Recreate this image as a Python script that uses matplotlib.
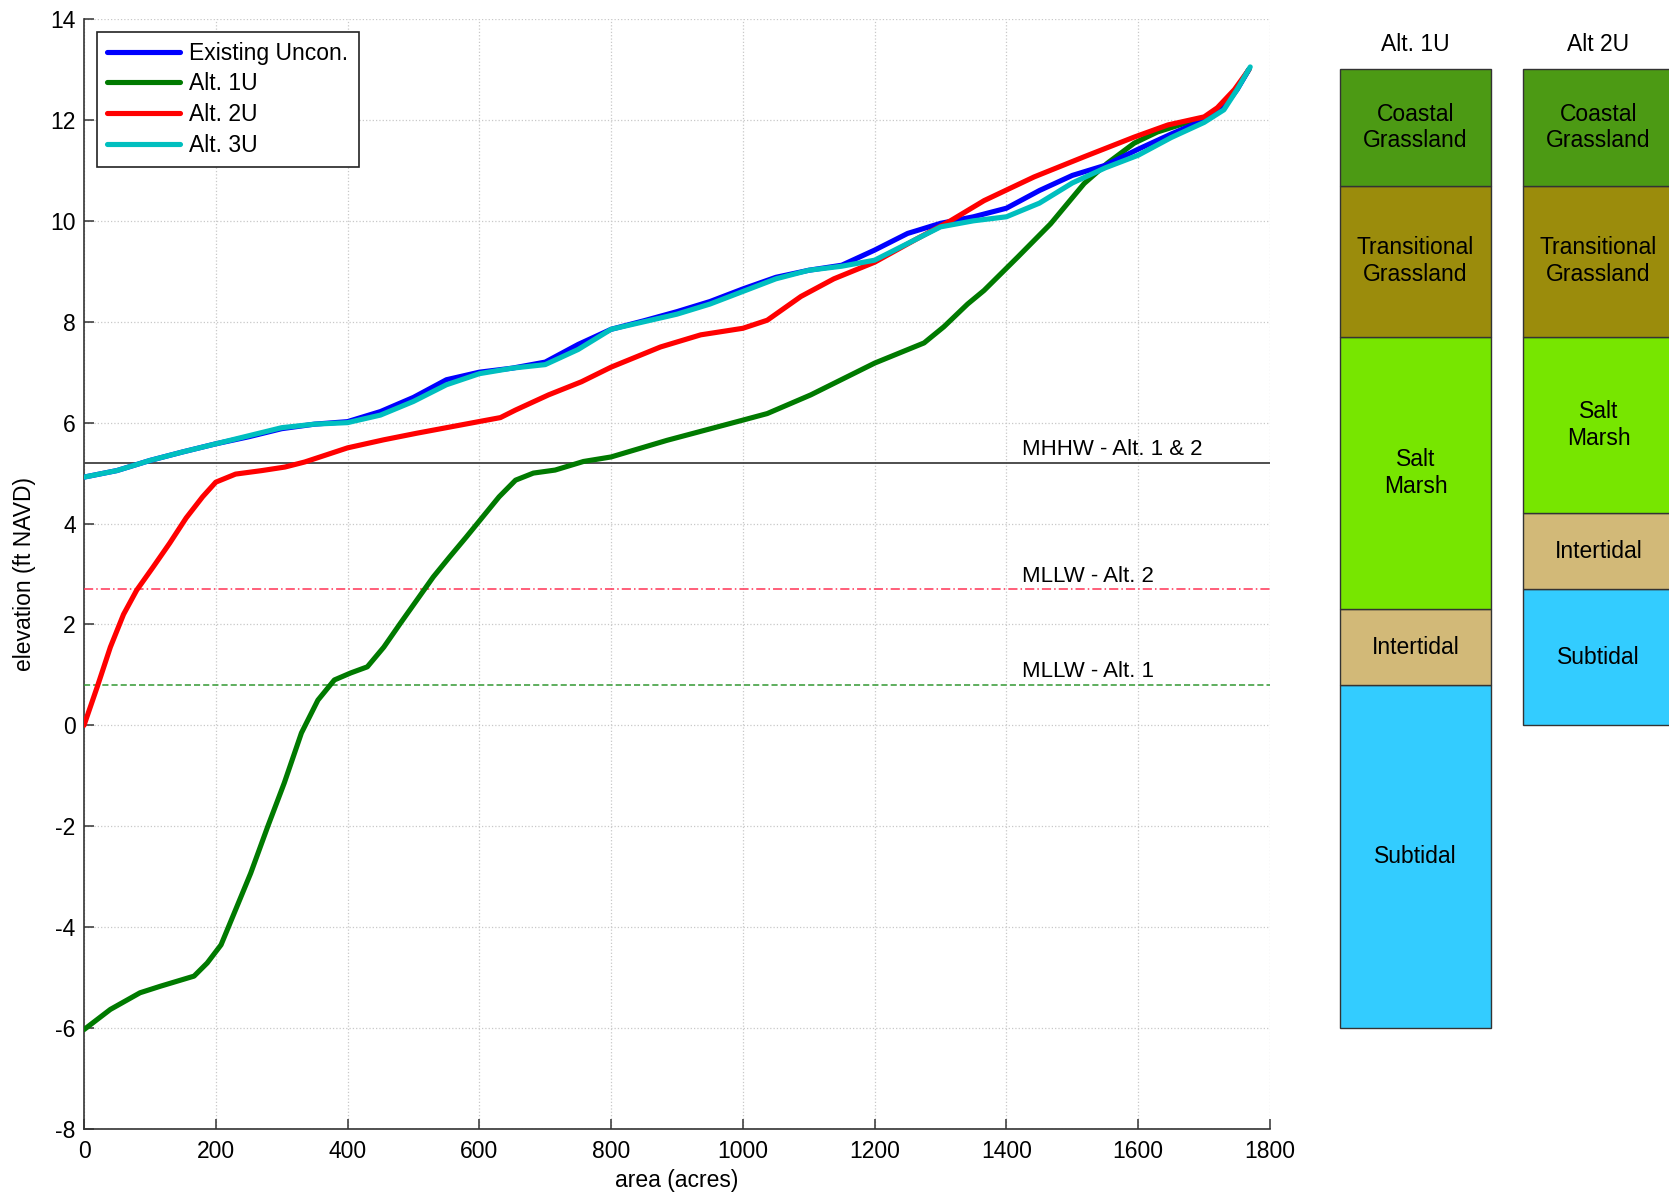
import numpy as np
import matplotlib
matplotlib.use('Agg')
import matplotlib.pyplot as plt

plt.rcParams['font.family'] = ['Liberation Sans', 'DejaVu Sans']
plt.rcParams['axes.unicode_minus'] = False

# hypsometric curves: area (acres) vs elevation (ft NAVD)
exist_x = [0, 50, 100, 150, 200, 250, 300, 350, 400, 450, 500, 550, 600, 650, 700, 750, 800,
           850, 900, 950, 1000, 1050, 1100, 1150, 1200, 1250, 1300, 1350, 1400, 1450, 1500,
           1550, 1600, 1650, 1700, 1730, 1750, 1768]
exist_y = [4.92, 5.05, 5.25, 5.42, 5.58, 5.72, 5.88, 5.97, 6.02, 6.22, 6.5, 6.85, 7.0, 7.08,
           7.2, 7.55, 7.85, 8.02, 8.2, 8.4, 8.65, 8.88, 9.02, 9.12, 9.42, 9.75, 9.95, 10.08,
           10.25, 10.6, 10.9, 11.1, 11.42, 11.72, 12.0, 12.25, 12.6, 13.0]

alt1_x = [0, 40, 85, 116, 167, 187, 208, 228, 253, 279, 304, 330, 355, 380, 405, 430, 455,
          480, 505, 530, 555, 580, 605, 630, 655, 682, 715, 758, 800, 885, 1000, 1037, 1103,
          1200, 1275, 1305, 1341, 1366, 1417, 1467, 1518, 1553, 1594, 1629, 1670, 1705, 1730,
          1750, 1768]
alt1_y = [-6.03, -5.63, -5.3, -5.17, -4.97, -4.71, -4.35, -3.72, -2.93, -2.0, -1.14, -0.15,
          0.5, 0.9, 1.04, 1.16, 1.55, 2.02, 2.48, 2.94, 3.34, 3.73, 4.13, 4.53, 4.86, 5.0,
          5.06, 5.23, 5.32, 5.65, 6.05, 6.18, 6.55, 7.18, 7.58, 7.9, 8.35, 8.62, 9.28, 9.94,
          10.74, 11.14, 11.54, 11.76, 11.93, 12.04, 12.3, 12.62, 13.0]

alt2_x = [0, 20, 40, 60, 80, 105, 130, 155, 180, 200, 230, 270, 305, 335, 400, 455, 505, 550,
          595, 632, 655, 705, 755, 800, 875, 936, 1000, 1037, 1088, 1138, 1200, 1265, 1315,
          1366, 1442, 1518, 1594, 1645, 1700, 1720, 1746, 1768]
alt2_y = [0.0, 0.76, 1.55, 2.2, 2.68, 3.14, 3.61, 4.11, 4.53, 4.82, 4.98, 5.05, 5.12, 5.22,
          5.5, 5.66, 5.79, 5.9, 6.01, 6.1, 6.25, 6.55, 6.81, 7.1, 7.5, 7.74, 7.87, 8.03, 8.5,
          8.85, 9.18, 9.65, 10.0, 10.4, 10.87, 11.27, 11.66, 11.9, 12.06, 12.24, 12.6, 13.0]

alt3_x = [0, 50, 100, 150, 200, 250, 300, 350, 400, 450, 500, 550, 600, 650, 700, 750, 800,
          850, 900, 950, 1000, 1050, 1100, 1150, 1200, 1250, 1300, 1350, 1400, 1450, 1500,
          1550, 1600, 1650, 1700, 1730, 1750, 1770]
alt3_y = [4.92, 5.05, 5.25, 5.42, 5.58, 5.74, 5.9, 5.97, 6.0, 6.15, 6.42, 6.75, 6.97, 7.08,
          7.15, 7.45, 7.85, 8.0, 8.15, 8.35, 8.6, 8.85, 9.02, 9.1, 9.22, 9.55, 9.88, 10.0,
          10.08, 10.35, 10.75, 11.05, 11.3, 11.65, 11.95, 12.2, 12.6, 13.05]

# tidal datums
mhhw = 5.2
mllw_alt2 = 2.7
mllw_alt1 = 0.8

# habitat zones (bottom to top) and elevation boundaries
zones = ['Subtidal', 'Intertidal', 'Salt\nMarsh', 'Transitional\nGrassland', 'Coastal\nGrassland']
zone_colors = ['#33CCFF', '#D2B978', '#77E600', '#9B8C0C', '#4C9A14']
alt1u_bounds = [-6.0, 0.8, 2.3, 7.7, 10.7, 13.0]
alt2u_bounds = [0.0, 2.7, 4.2, 7.7, 10.7, 13.0]

FS = 16.5


def main():
    fig = plt.figure(figsize=(16.69, 11.99), dpi=100)
    ax = fig.add_axes([84 / 1669, 1 - 1129 / 1199, (1270 - 84) / 1669, (1129 - 19) / 1199])

    kw = dict(lw=3.7, solid_joinstyle='round', solid_capstyle='round')
    ax.plot(exist_x, exist_y, color='#0000FF', label='Existing Uncon.', zorder=5, **kw)
    ax.plot(alt1_x, alt1_y, color='#007A00', label='Alt. 1U', zorder=4, **kw)
    ax.plot(alt2_x, alt2_y, color='#FF0000', label='Alt. 2U', zorder=6, **kw)
    ax.plot(alt3_x, alt3_y, color='#00BFBF', label='Alt. 3U', zorder=7, **kw)

    ax.axhline(mhhw, color='#404040', lw=1.3, zorder=3)
    ax.axhline(mllw_alt2, color='#FF3355', lw=1.1, ls=(0, (6, 2, 1, 2)), zorder=3)
    ax.axhline(mllw_alt1, color='#339933', lw=1.1, ls=(0, (4, 2)), zorder=3)
    ax.text(1424, mhhw + 0.15, 'MHHW - Alt. 1 & 2', fontsize=FS - 0.5, va='baseline')
    ax.text(1424, mllw_alt2 + 0.15, 'MLLW - Alt. 2', fontsize=FS - 0.5, va='baseline')
    ax.text(1424, mllw_alt1 + 0.15, 'MLLW - Alt. 1', fontsize=FS - 0.5, va='baseline')

    ax.set_xlim(0, 1800)
    ax.set_ylim(-8, 14)
    ax.set_xticks(np.arange(0, 1801, 200))
    ax.set_yticks(np.arange(-8, 15, 2))
    ax.grid(True, ls=':', color='#c8c8c8', lw=0.9)
    ax.set_axisbelow(True)
    for s in ['top', 'right']:
        ax.spines[s].set_visible(False)
    for s in ['left', 'bottom']:
        ax.spines[s].set_color('#333333')
        ax.spines[s].set_linewidth(1.2)
    ax.tick_params(direction='in', length=7, width=1.1, color='#333333', labelsize=FS)
    ax.tick_params(axis='x', pad=8)
    ax.tick_params(axis='y', pad=6)
    ax.set_xlabel('area (acres)', fontsize=FS, labelpad=4)
    ax.set_ylabel('elevation (ft NAVD)', fontsize=FS, labelpad=10)

    leg = ax.legend(loc='upper left', fontsize=FS, frameon=True, fancybox=False,
                    borderaxespad=0.55, handlelength=3.2, handletextpad=0.4,
                    labelspacing=0.33, borderpad=0.45)
    leg.get_frame().set_edgecolor('#222222')
    leg.get_frame().set_linewidth(1.2)
    leg.get_frame().set_alpha(1)
    leg._legend_box.align = 'left'

    # habitat columns
    ax2 = fig.add_axes([1340 / 1669, 1 - 1129 / 1199, (1669 - 1340) / 1669, (1129 - 19) / 1199])
    ax2.set_xlim(0, 329)
    ax2.set_ylim(-8, 14)
    ax2.axis('off')
    for x0, bounds, title in [(0, alt1u_bounds, 'Alt. 1U'), (183, alt2u_bounds, 'Alt 2U')]:
        b = np.array(bounds)
        h = np.diff(b)
        ax2.bar([x0] * len(zones), h, bottom=b[:-1], width=151, align='edge',
                color=zone_colors, edgecolor='#333333', lw=1.0, clip_on=False)
        for name, lo, hi in zip(zones, b[:-1], b[1:]):
            ax2.text(x0 + 75.5, (lo + hi) / 2, name, ha='center', va='center',
                     fontsize=FS, linespacing=1.2)
        ax2.text(x0 + 75.5, 13.5, title, ha='center', va='center', fontsize=FS)

    fig.savefig('out.png', dpi=100)


if __name__ == '__main__':
    main()
